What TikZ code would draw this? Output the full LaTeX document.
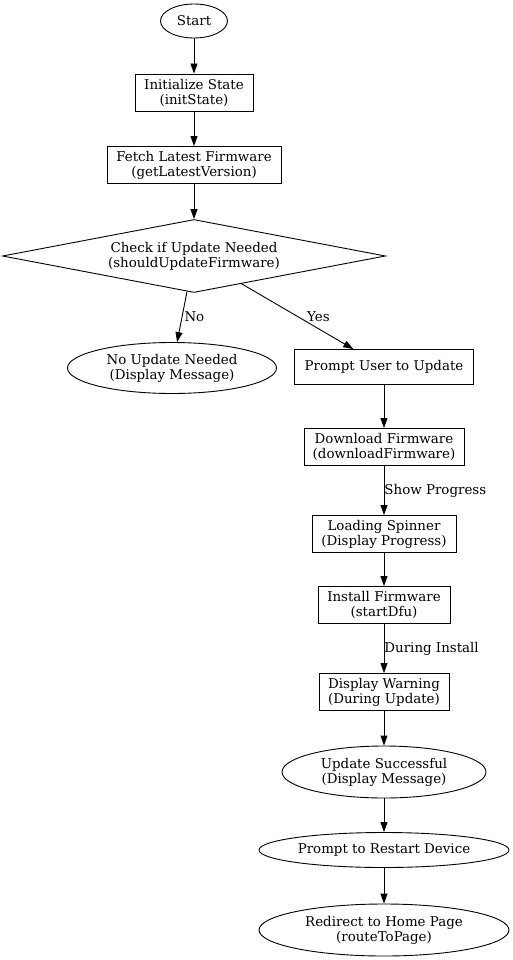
\documentclass[tikz,border=0pt]{standalone}
\usepackage{fontspec}
\setmainfont{DejaVu Serif}
\usetikzlibrary{arrows.meta, shapes.geometric}

\begin{document}
\begin{tikzpicture} [x=1pt, y=-1pt, font=\fontsize{13.4}{15}\selectfont, line width=0.9pt,
    proc/.style={draw, rectangle, align=center, minimum height=37pt, inner sep=2pt},
    term/.style={draw, ellipse, align=center, inner sep=1pt},
    check/.style={draw, diamond, align=center, inner sep=0pt, aspect=5.2},
    flow/.style={-{Triangle[length=10pt, width=7pt]}, line width=0.9pt}]
    \useasboundingbox (0,0) rectangle (513,960);
    \node (start) [term, minimum width=67pt, minimum height=34pt] at (194,21) {Start};
    \node (init) [proc, minimum width=118pt] at (194,92.5) {Initialize State\\(initState)};
    \node (fetch) [proc, minimum width=174pt] at (194,165) {Fetch Latest Firmware\\(getLatestVersion)};
    \node (chk) [check, minimum width=383pt, minimum height=73pt] at (194,256) {Check if Update Needed\\(shouldUpdateFirmware)};
    \node (noupd) [term, minimum width=209pt, minimum height=51pt] at (172,368) {No Update Needed\\(Display Message)};
    \node (prompt) [proc, minimum width=179pt, minimum height=35pt] at (384,367) {Prompt User to Update};
    \node (dl) [proc, minimum width=160pt] at (384,447) {Download Firmware\\(downloadFirmware)};
    \node (spin) [proc, minimum width=144pt] at (384,534) {Loading Spinner\\(Display Progress)};
    \node (inst) [proc, minimum width=132pt] at (384,605) {Install Firmware\\(startDfu)};
    \node (warn) [proc, minimum width=130pt] at (384,692) {Display Warning\\(During Update)};
    \node (done) [term, minimum width=204pt, minimum height=52pt] at (384,772) {Update Successful\\(Display Message)};
    \node (restart) [term, minimum width=250pt, minimum height=35pt] at (384,850) {Prompt to Restart Device};
    \node (home) [term, minimum width=250pt, minimum height=52pt] at (384,930) {Redirect to Home Page\\(routeToPage)};
    \path [flow]
    (start) edge (init)
    (init) edge (fetch)
    (fetch) edge (chk)
    (chk) edge node [right, inner sep=2pt] {No} (noupd)
    (chk) edge node [right, xshift=6pt] {Yes} (prompt)
    (prompt) edge (dl)
    (dl) edge node [right, inner sep=0pt] {Show Progress} (spin)
    (spin) edge (inst)
    (inst) edge node [right, inner sep=0pt] {During Install} (warn)
    (warn) edge (done)
    (done) edge (restart)
    (restart) edge (home);
\end{tikzpicture}
\end{document}
